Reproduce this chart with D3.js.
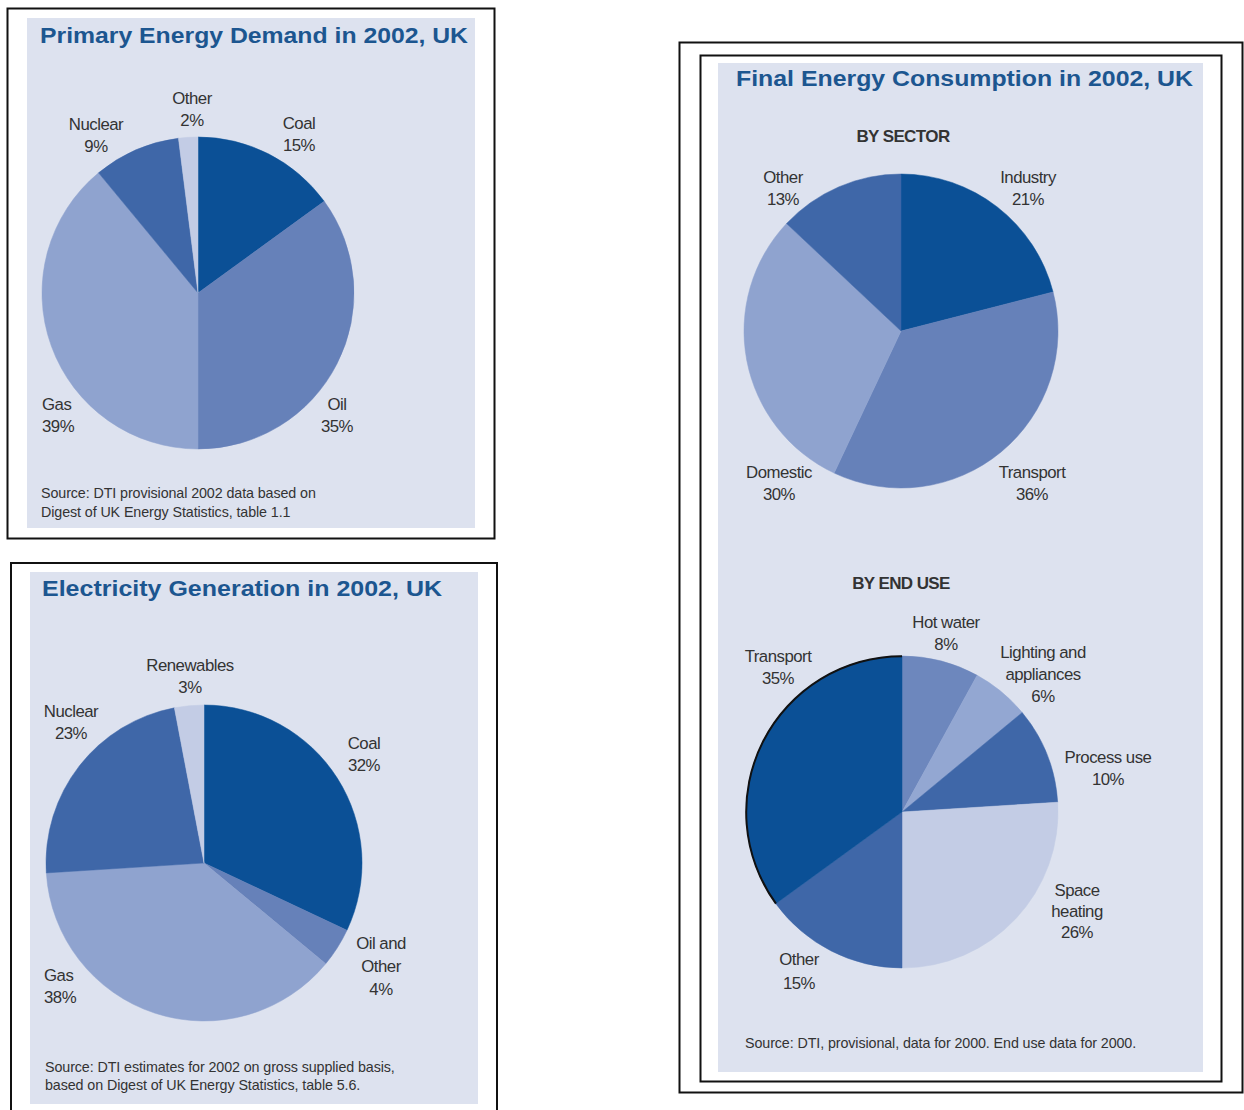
<!DOCTYPE html>
<html><head><meta charset="utf-8">
<script src="https://cdn.jsdelivr.net/npm/d3@7"></script>
<style>
html,body{margin:0;padding:0;background:#fff;}
svg{display:block;}
text{font-family:"Liberation Sans",Arial,sans-serif;}
</style></head>
<body>
<svg id="c" width="1244" height="1110"></svg>
<script>
// ---- Data ----
const primaryLabels = [["Coal","15%"],["Oil","35%"],["Gas","39%"],["Nuclear","9%"],["Other","2%"]];
const primaryValues = [15,35,39,9,2];

const elecLabels = [["Coal","32%"],["Oil and","Other","4%"],["Gas","38%"],["Nuclear","23%"],["Renewables","3%"]];
const elecValues = [32,4,38,23,3];

const sectorLabels = [["Industry","21%"],["Transport","36%"],["Domestic","30%"],["Other","13%"]];
const sectorValues = [21,36,30,13];

const endUseLabels = [["Hot water","8%"],["Lighting and","appliances","6%"],["Process use","10%"],["Space","heating","26%"],["Other","15%"],["Transport","35%"]];
const endUseValues = [8,6,10,26,15,35];

// ---- Styles ----
const C = {dark:"#0b5096", mid:"#6681b9", light:"#8fa3cf", nav:"#3f67a8", pale:"#c3cce5", hot:"#6d87bd", lite2:"#93a7d2"};
const BG = "#dde2ef";
const TITLE = "#1c5690";
const svg = d3.select("#c");

function box(x,y,w,h,sw){
  svg.append("rect").attr("x",x).attr("y",y).attr("width",w).attr("height",h)
    .attr("fill","none").attr("stroke","#111").attr("stroke-width",sw);
}
function bg(x,y,w,h){
  svg.append("rect").attr("x",x).attr("y",y).attr("width",w).attr("height",h).attr("fill",BG);
}
function title(txt,x,y,len){
  svg.append("text").attr("x",x).attr("y",y).attr("fill",TITLE)
    .attr("font-size",22).attr("font-weight","bold")
    .attr("textLength",len).attr("lengthAdjust","spacingAndGlyphs").text(txt);
}
function lines(arr,x,y,anchor,lh,size,color,ls){
  const t = svg.append("text").attr("x",x).attr("y",y).attr("text-anchor",anchor||"middle")
    .attr("font-size",size||16.8).attr("fill",color||"#333").attr("letter-spacing",ls===undefined?-0.5:ls);
  arr.forEach((s,i)=>t.append("tspan").attr("x",x).attr("dy",i===0?0:(lh||22)).text(s));
  return t;
}
function pie(values,colors,cx,cy,r){
  const p = d3.pie().sort(null).value(d=>d)(values);
  const arc = d3.arc().innerRadius(0).outerRadius(r);
  const g = svg.append("g").attr("transform",`translate(${cx},${cy})`);
  g.selectAll("path").data(p).join("path").attr("d",arc).attr("fill",(d,i)=>colors[i])
    .attr("stroke",(d,i)=>colors[i]).attr("stroke-width",0.5);
  return {g,p,r};
}
function sub(txt,x,y){
  svg.append("text").attr("x",x).attr("y",y).attr("text-anchor","middle").attr("font-size",17)
    .attr("font-weight","bold").attr("fill","#333").attr("letter-spacing",-0.6).text(txt);
}

// ---- Panel 1: Primary Energy Demand ----
box(7.5,8.5,487,530,2);
bg(27,18,448,510);
title("Primary Energy Demand in 2002, UK",40,43,428);
pie(primaryValues,[C.dark,C.mid,C.light,C.nav,C.pale],198,293,156);
lines(primaryLabels[0],299,129,"middle");
lines(primaryLabels[1],337,410,"middle");
lines(primaryLabels[2],42,410,"start");
lines(primaryLabels[3],96,130,"middle");
lines(primaryLabels[4],192,104,"middle");
lines(["Source: DTI provisional 2002 data based on","Digest of UK Energy Statistics, table 1.1"],41,498,"start",19,14.3,"#333",-0.1);

// ---- Panel 2: Electricity Generation ----
box(11,563,486,560,2);
bg(30,572,448,532);
title("Electricity Generation in 2002, UK",42,596,400);
pie(elecValues,[C.dark,C.mid,C.light,C.nav,C.pale],204,863,158);
lines(elecLabels[0],364,749,"middle");
lines(elecLabels[1],381,949,"middle",23);
lines(elecLabels[2],44,981,"start");
lines(elecLabels[3],71,717,"middle");
lines(elecLabels[4],190,671,"middle");
lines(["Source: DTI estimates for 2002 on gross supplied basis,","based on Digest of UK Energy Statistics, table 5.6."],45,1072,"start",18,14.3,"#333",-0.1);

// ---- Panel 3: Final Energy Consumption ----
box(679.5,42.5,563,1050,2);
box(700.5,55.5,521,1026,2);
bg(718,63,485,1009);
title("Final Energy Consumption in 2002, UK",736,86,457);
sub("BY SECTOR",903,142);
pie(sectorValues,[C.dark,C.mid,C.light,C.nav],901,331,157);
lines(sectorLabels[0],1028,183,"middle");
lines(sectorLabels[1],1032,478,"middle");
lines(sectorLabels[2],779,478,"middle");
lines(sectorLabels[3],783,183,"middle");

sub("BY END USE",901,589);
const eu = pie(endUseValues,[C.hot,C.lite2,C.nav,C.pale,C.nav,C.dark],902,812,156);
// dark outline along the Transport arc
eu.g.append("path").attr("d",d3.arc().innerRadius(eu.r-1.2).outerRadius(eu.r+0.8)(eu.p[5])).attr("fill","#111");
lines(endUseLabels[0],946,628,"middle");
lines(endUseLabels[1],1043,658,"middle",22);
lines(endUseLabels[2],1108,763,"middle");
lines(endUseLabels[3],1077,896,"middle",21);
lines(endUseLabels[4],799,965,"middle",24);
lines(endUseLabels[5],778,662,"middle");
lines(["Source: DTI, provisional, data for 2000. End use data for 2000."],745,1048,"start",18,14.3,"#333",-0.1);
</script>
</body></html>
